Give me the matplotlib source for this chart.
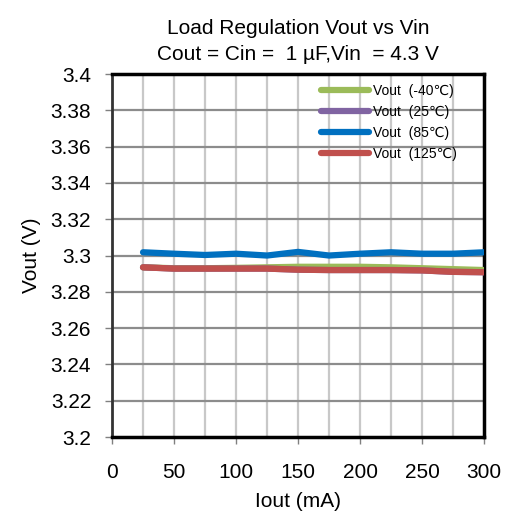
import matplotlib
matplotlib.use("Agg")
import matplotlib.pyplot as plt

plt.rcParams['font.family'] = ['Liberation Sans', 'DejaVu Sans']

iout = [25, 50, 75, 100, 125, 150, 175, 200, 225, 250, 275, 300]
v_m40 = [3.2935, 3.2930, 3.2930, 3.2932, 3.2935, 3.2938, 3.2938, 3.2938, 3.2935, 3.2930, 3.2925, 3.2920]
v_25 = [3.2935, 3.2928, 3.2928, 3.2928, 3.2928, 3.2922, 3.2920, 3.2920, 3.2920, 3.2918, 3.2910, 3.2908]
v_85 = [3.3018, 3.3010, 3.3003, 3.3010, 3.3000, 3.3020, 3.3000, 3.3010, 3.3018, 3.3010, 3.3010, 3.3018]
v_125 = [3.2935, 3.2928, 3.2928, 3.2928, 3.2928, 3.2922, 3.2920, 3.2920, 3.2920, 3.2918, 3.2910, 3.2908]

series = [("Vout  (-40\u2103)", v_m40, "#9bbb59"),
          ("Vout  (25\u2103)", v_25, "#8064a2"),
          ("Vout  (85\u2103)", v_85, "#0070c0"),
          ("Vout  (125\u2103)", v_125, "#c0504d")]

yticks = [3.2, 3.22, 3.24, 3.26, 3.28, 3.3, 3.32, 3.34, 3.36, 3.38, 3.4]
ylabels = ["3.2", "3.22", "3.24", "3.26", "3.28", "3.3", "3.32", "3.34", "3.36", "3.38", "3.4"]
xticks = [0, 50, 100, 150, 200, 250, 300]
xgrid = [25, 50, 75, 100, 125, 150, 175, 200, 225, 250, 275]

fig = plt.figure(figsize=(5.12, 5.2), dpi=100)
ax = fig.add_axes([0.2188, 0.1596, 0.7266, 0.698])

for xg in xgrid:
    ax.axvline(xg, color="#c8c8c8", lw=1.6, zorder=1)
for yt in yticks[1:-1]:
    ax.axhline(yt, color="#8c8c8c", lw=1.6, zorder=1)

for label, vals, col in series:
    ax.plot(iout, vals, color=col, lw=4.5, label=label, zorder=3, solid_capstyle='round')

ax.set_xlim(0, 300)
ax.set_ylim(3.2, 3.4)
ax.set_xticks(xticks)
ax.set_xticklabels([str(x) for x in xticks], fontsize=15)
ax.set_yticks(yticks)
ax.set_yticklabels(ylabels, fontsize=15)
ax.tick_params(axis='both', direction='out', length=5, width=1, color='#808080')
ax.tick_params(axis='y', pad=10)
ax.tick_params(axis='x', pad=14)

for s in ['top', 'right', 'bottom']:
    ax.spines[s].set_linewidth(2.5)
    ax.spines[s].set_color('black')
ax.spines['left'].set_linewidth(2)
ax.spines['left'].set_color('#333333')

ax.set_xlabel("Iout (mA)", fontsize=15, labelpad=7)
ax.set_ylabel("Vout (V)", fontsize=15, labelpad=7)
ax.set_title("Load Regulation Vout vs Vin\nCout = Cin =  1 \u00b5F,Vin  = 4.3 V", fontsize=15, pad=10, linespacing=1.45)

leg = ax.legend(loc='upper left', bbox_to_anchor=(0.535, 1.0), frameon=False, fontsize=10,
                handlelength=3.5, handletextpad=0.25, labelspacing=0.5, borderaxespad=0.3)

fig.savefig("out.png", dpi=100)
